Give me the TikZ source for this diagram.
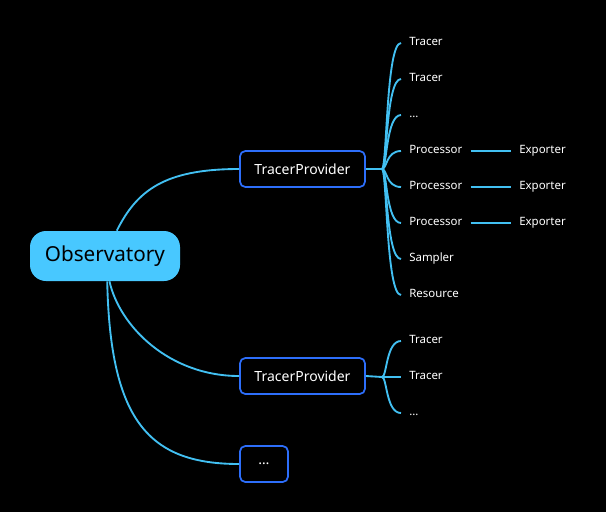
\documentclass[tikz,border=0pt]{standalone}
\usepackage{fontspec}
\setmainfont{Noto Sans}
\usepackage{tikz}
\usetikzlibrary{positioning, calc}
\usepackage{xcolor}
\definecolor{rootblue}{RGB}{72,200,255}
\definecolor{linkblue}{RGB}{66,192,242}
\definecolor{boxblue}{RGB}{45,110,250}

\begin{document}
\begin{tikzpicture}[x=0.75pt, y=-0.75pt,
    root/.style={fill=rootblue, rounded corners=12pt, minimum width=112.5pt, minimum height=37.5pt, text=black, font=\fontsize{15.5}{18}\selectfont},
    provider/.style={draw=boxblue, line width=1.3pt, rounded corners=4pt, fill=black, minimum height=27pt, text=white, font=\fontsize{10.5}{12}\selectfont},
    leaf/.style={anchor=west, text=white, inner xsep=6pt, inner ysep=1pt, text height=6.5pt, text depth=3.3pt, font=\fontsize{8.6}{10}\selectfont},
    link/.style={draw=linkblue, line width=1.4pt}]
        % Background
        \fill[black] (0,0) rectangle (606,512);

        % Root and providers
        \node[root] (obs) at (105,256) {Observatory};
        \node[provider, minimum width=93.75pt] (tp1) at (302.5,169) {TracerProvider};
        \node[provider, minimum width=93.75pt] (tp2) at (302.5,376) {TracerProvider};
        \node[provider, minimum width=36pt] (more) at (264,464) {\ldots};

        % Links from root
        \draw[link] (obs.65) .. controls +(20,-40) and +(-75,0) .. (tp1.west);
        \draw[link] (obs.-80) .. controls +(10,45) and +(-70,0) .. (tp2.west);
        \draw[link] (obs.-85) .. controls +(3,140) and +(-90,0) .. (more.west);

        % First provider
        \coordinate (f1) at (382,169);
        \draw[link] (tp1.east) -- (f1);
        \node[leaf] (tr1) at (401,43) {Tracer};
        \node[leaf] (tr2) at (401,79) {Tracer};
        \node[leaf] (dt1) at (401,115) {\ldots};
        \node[leaf] (pr1) at (401,151) {Processor};
        \node[leaf] (pr2) at (401,187) {Processor};
        \node[leaf] (pr3) at (401,223) {Processor};
        \node[leaf] (smp) at (401,259) {Sampler};
        \node[leaf] (res) at (401,295) {Resource};
        \draw[link] (f1) .. controls +(5,0) and +(-15,0) .. (tr1.west);
        \draw[link] (f1) .. controls +(5,0) and +(-15,0) .. (tr2.west);
        \draw[link] (f1) .. controls +(5,0) and +(-15,0) .. (dt1.west);
        \draw[link] (f1) .. controls +(5,0) and +(-15,0) .. (pr1.west);
        \draw[link] (f1) .. controls +(5,0) and +(-15,0) .. (pr2.west);
        \draw[link] (f1) .. controls +(5,0) and +(-15,0) .. (pr3.west);
        \draw[link] (f1) .. controls +(5,0) and +(-15,0) .. (smp.west);
        \draw[link] (f1) .. controls +(5,0) and +(-15,0) .. (res.west);

        % Exporters
        \node[leaf] (ex1) at (511,151) {Exporter};
        \node[leaf] (ex2) at (511,187) {Exporter};
        \node[leaf] (ex3) at (511,223) {Exporter};
        \draw[link] (pr1.east) -- (ex1.west);
        \draw[link] (pr2.east) -- (ex2.west);
        \draw[link] (pr3.east) -- (ex3.west);

        % Second provider
        \coordinate (f2) at (382,377);
        \draw[link] (tp2.east) -- (f2);
        \node[leaf] (tr3) at (401,341) {Tracer};
        \node[leaf] (tr4) at (401,377) {Tracer};
        \node[leaf] (dt2) at (401,413) {\ldots};
        \draw[link] (f2) .. controls +(5,0) and +(-15,0) .. (tr3.west);
        \draw[link] (f2) .. controls +(5,0) and +(-15,0) .. (tr4.west);
        \draw[link] (f2) .. controls +(5,0) and +(-15,0) .. (dt2.west);

    \end{tikzpicture}
\end{document}
